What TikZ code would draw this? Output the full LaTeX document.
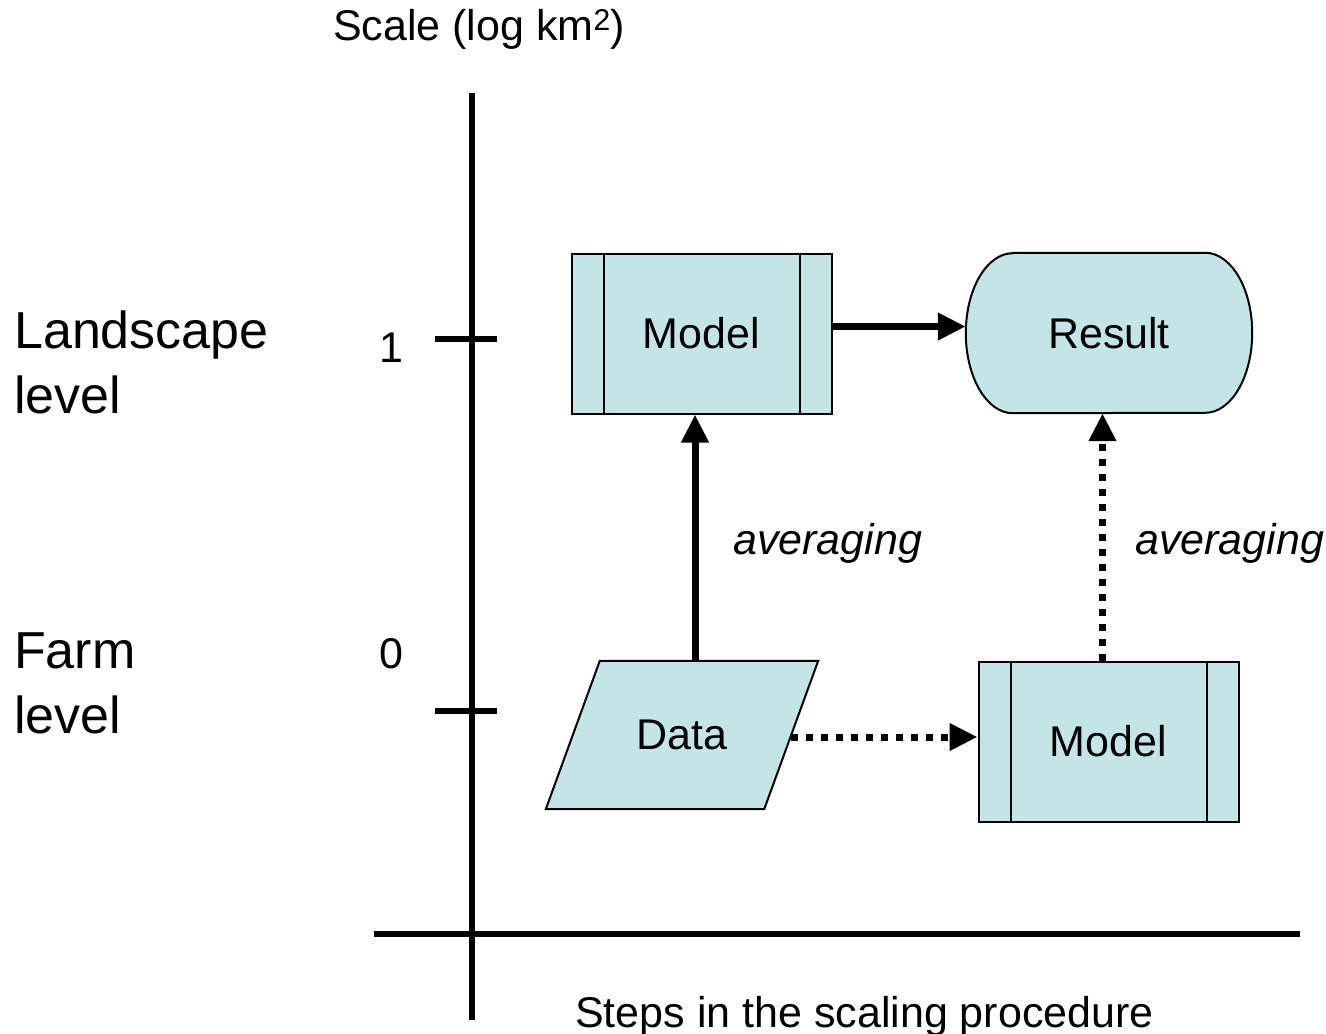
\documentclass[tikz,border=0pt]{standalone}
\usepackage{fontspec}
\setmainfont{Liberation Sans}
\usetikzlibrary{arrows.meta,backgrounds}
\definecolor{boxfill}{RGB}{196,229,232}
\newcommand\fA{\fontsize{43pt}{50pt}\selectfont}
\newcommand\fB{\fontsize{52pt}{64.5pt}\selectfont}
\begin{document}
\begin{tikzpicture}[x=1pt,y=-1pt,
  axis/.style={line width=6pt},
  lbl/.style={inner sep=0pt,font=\fA},
  biglbl/.style={inner sep=0pt,font=\fB,align=left},
  procbox/.style={draw=black,line width=2pt,fill=boxfill,minimum width=260pt,minimum height=160pt,inner sep=0pt,font=\fA},
  plainbox/.style={inner sep=0pt,font=\fA},
  shapeline/.style={draw=black,line width=2pt,fill=boxfill},
  arr/.style={line width=7pt,-{Triangle[length=28pt,width=26pt]}},
  dotarr/.style={arr,dash pattern=on 7pt off 8pt}]
\useasboundingbox (0,0) rectangle (1326,1034);
% axes
\draw[axis] (472,93) -- (472,1020);
\draw[axis] (374,934) -- (1300,934);
\draw[axis] (435,339) -- (497,339);
\draw[axis] (435,711) -- (497,711);
% axis labels
\node[lbl,anchor=base west] (ylab) at (333,40) {Scale (log km\textsuperscript{2})};
\node[lbl,anchor=base] (one) at (391,362) {1};
\node[lbl,anchor=base] (zero) at (391,668) {0};
\node[biglbl,anchor=base west] (land) at (14,413) {Landscape\\level};
\node[biglbl,anchor=base west] (farm) at (14,733) {Farm\\level};
\node[lbl,anchor=base west] (xlab) at (575,1027) {Steps in the scaling procedure};
% boxes
\node[procbox] (model1) at (701.5,333.5) {Model};
\draw[line width=2pt] ([xshift=33pt]model1.north west) -- ([xshift=33pt]model1.south west);
\draw[line width=2pt] ([xshift=-33pt]model1.north east) -- ([xshift=-33pt]model1.south east);
\node[procbox] (model2) at (1108.5,741.5) {Model};
\draw[line width=2pt] ([xshift=33pt]model2.north west) -- ([xshift=33pt]model2.south west);
\draw[line width=2pt] ([xshift=-33pt]model2.north east) -- ([xshift=-33pt]model2.south east);
\node[plainbox,minimum width=286pt,minimum height=160pt] (result) at (1109,333) {Result};
\node[plainbox,minimum width=218pt,minimum height=148pt] (data) at (682,735) {Data};
\begin{scope}[on background layer]
\path[shapeline] ([xshift=47pt]result.north west) -- ([xshift=-47pt]result.north east)
  arc[start angle=90,end angle=-90,x radius=47pt,y radius=80pt]
  -- ([xshift=47pt]result.south west)
  arc[start angle=270,end angle=90,x radius=47pt,y radius=80pt] -- cycle;
\path[shapeline] ([xshift=27pt]data.north west) -- ([xshift=27pt]data.north east)
  -- ([xshift=-27pt]data.south east) -- ([xshift=-27pt]data.south west) -- cycle;
\end{scope}
% connectors
\coordinate (mA) at ([xshift=-6.5pt]model1.south);
\coordinate (mB) at ([xshift=-6pt]model2.north);
\coordinate (mC) at ([yshift=7pt]model1.east);
\draw[arr] (data.north -| mA) -- (mA);
\draw[arr] (mC) -- (mC -| result.west);
\draw[dotarr] ([yshift=-2pt]data.east) -- ([yshift=-2pt]data.east -| model2.west);
\draw[dotarr] (mB) -- (mB |- result.south);
\node[lbl,anchor=base west,font=\fA\itshape] (avg1) at (733,554) {averaging};
\node[lbl,anchor=base west,font=\fA\itshape] (avg2) at (1135,554) {averaging};
\end{tikzpicture}
\end{document}
